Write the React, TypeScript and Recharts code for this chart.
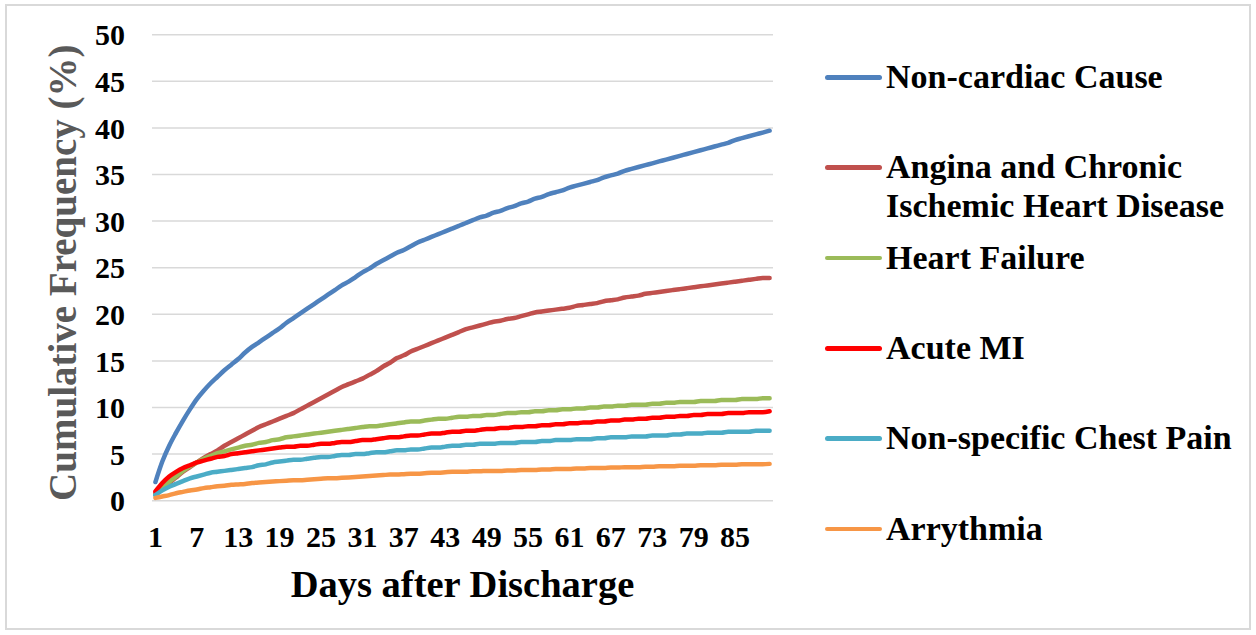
import React from 'react';
import { LineChart, Line, XAxis, YAxis, CartesianGrid, Legend, Label } from 'recharts';

const FONT = "'Liberation Serif', 'Times New Roman', serif";

// days after discharge (category axis)
const days = Array.from({ length: 90 }, (_, i) => String(i + 1));

const nonCardiac = [
  2.0, 4.2, 5.9, 7.3, 8.6, 9.8, 10.9, 11.8, 12.6, 13.3,
  14.0, 14.6, 15.2, 15.9, 16.5, 17.0, 17.5, 18.0, 18.5, 19.1,
  19.6, 20.1, 20.6, 21.1, 21.6, 22.1, 22.6, 23.1, 23.5, 24.0,
  24.5, 24.9, 25.4, 25.8, 26.2, 26.6, 26.9, 27.3, 27.7, 28.0,
  28.3, 28.6, 28.9, 29.2, 29.5, 29.8, 30.1, 30.4, 30.6, 30.9,
  31.1, 31.4, 31.6, 31.9, 32.1, 32.4, 32.6, 32.9, 33.1, 33.3,
  33.6, 33.8, 34.0, 34.2, 34.4, 34.7, 34.9, 35.1, 35.4, 35.6,
  35.8, 36.0, 36.2, 36.4, 36.6, 36.8, 37.0, 37.2, 37.4, 37.6,
  37.8, 38.0, 38.2, 38.4, 38.7, 38.9, 39.1, 39.3, 39.5, 39.7,
];

const angina = [
  0.8, 1.3, 1.9, 2.5, 3.1, 3.6, 4.1, 4.6, 5.0, 5.4,
  5.9, 6.3, 6.7, 7.1, 7.5, 7.9, 8.2, 8.5, 8.8, 9.1,
  9.4, 9.8, 10.2, 10.6, 11.0, 11.4, 11.8, 12.2, 12.5, 12.8,
  13.1, 13.5, 13.9, 14.4, 14.8, 15.3, 15.6, 16.0, 16.3, 16.6,
  16.9, 17.2, 17.5, 17.8, 18.1, 18.4, 18.6, 18.8, 19.0, 19.2,
  19.3, 19.5, 19.6, 19.8, 20.0, 20.2, 20.3, 20.4, 20.5, 20.6,
  20.7, 20.9, 21.0, 21.1, 21.2, 21.4, 21.5, 21.6, 21.8, 21.9,
  22.0, 22.2, 22.3, 22.4, 22.5, 22.6, 22.7, 22.8, 22.9, 23.0,
  23.1, 23.2, 23.3, 23.4, 23.5, 23.6, 23.7, 23.8, 23.9, 23.9,
];

const heartFailure = [
  0.6, 1.3, 2.0, 2.6, 3.2, 3.7, 4.1, 4.5, 4.8, 5.1,
  5.3, 5.5, 5.7, 5.9, 6.0, 6.2, 6.3, 6.5, 6.6, 6.8,
  6.9, 7.0, 7.1, 7.2, 7.3, 7.4, 7.5, 7.6, 7.7, 7.8,
  7.9, 8.0, 8.0, 8.1, 8.2, 8.3, 8.4, 8.5, 8.5, 8.6,
  8.7, 8.8, 8.8, 8.9, 9.0, 9.0, 9.1, 9.1, 9.2, 9.2,
  9.3, 9.4, 9.4, 9.5, 9.5, 9.6, 9.6, 9.7, 9.7, 9.8,
  9.8, 9.9, 9.9, 10.0, 10.0, 10.1, 10.1, 10.2, 10.2, 10.3,
  10.3, 10.3, 10.4, 10.4, 10.5, 10.5, 10.6, 10.6, 10.6, 10.7,
  10.7, 10.7, 10.8, 10.8, 10.8, 10.9, 10.9, 10.9, 11.0, 11.0,
];

const acuteMI = [
  1.0, 1.9, 2.6, 3.1, 3.5, 3.8, 4.1, 4.3, 4.5, 4.7,
  4.8, 5.0, 5.1, 5.2, 5.3, 5.4, 5.5, 5.6, 5.7, 5.8,
  5.8, 5.9, 5.9, 6.0, 6.1, 6.1, 6.2, 6.3, 6.3, 6.4,
  6.5, 6.5, 6.6, 6.7, 6.8, 6.8, 6.9, 7.0, 7.0, 7.1,
  7.2, 7.2, 7.3, 7.4, 7.4, 7.5, 7.5, 7.6, 7.7, 7.7,
  7.8, 7.8, 7.9, 7.9, 8.0, 8.0, 8.1, 8.1, 8.2, 8.2,
  8.3, 8.3, 8.4, 8.4, 8.5, 8.5, 8.6, 8.6, 8.7, 8.7,
  8.8, 8.8, 8.9, 8.9, 9.0, 9.0, 9.1, 9.1, 9.2, 9.2,
  9.3, 9.3, 9.3, 9.4, 9.4, 9.4, 9.5, 9.5, 9.5, 9.6,
];

const chestPain = [
  0.6, 1.1, 1.5, 1.8, 2.1, 2.4, 2.6, 2.8, 3.0, 3.1,
  3.2, 3.3, 3.4, 3.5, 3.6, 3.8, 3.9, 4.1, 4.2, 4.3,
  4.4, 4.4, 4.5, 4.6, 4.7, 4.7, 4.8, 4.9, 4.9, 5.0,
  5.0, 5.1, 5.2, 5.2, 5.3, 5.4, 5.4, 5.5, 5.5, 5.6,
  5.7, 5.7, 5.8, 5.9, 5.9, 6.0, 6.0, 6.1, 6.1, 6.1,
  6.2, 6.2, 6.2, 6.3, 6.3, 6.3, 6.4, 6.4, 6.5, 6.5,
  6.5, 6.6, 6.6, 6.6, 6.7, 6.7, 6.8, 6.8, 6.8, 6.9,
  6.9, 6.9, 7.0, 7.0, 7.0, 7.1, 7.1, 7.2, 7.2, 7.2,
  7.3, 7.3, 7.3, 7.4, 7.4, 7.4, 7.4, 7.5, 7.5, 7.5,
];

const arrythmia = [
  0.3, 0.45, 0.6, 0.8, 0.95, 1.1, 1.2, 1.35, 1.45, 1.55,
  1.6, 1.7, 1.75, 1.8, 1.9, 1.95, 2.0, 2.05, 2.1, 2.15,
  2.2, 2.2, 2.25, 2.3, 2.35, 2.4, 2.4, 2.45, 2.5, 2.55,
  2.6, 2.65, 2.7, 2.75, 2.8, 2.8, 2.85, 2.9, 2.9, 2.95,
  3.0, 3.0, 3.05, 3.1, 3.1, 3.1, 3.15, 3.15, 3.2, 3.2,
  3.2, 3.25, 3.25, 3.3, 3.3, 3.3, 3.35, 3.35, 3.4, 3.4,
  3.4, 3.45, 3.45, 3.5, 3.5, 3.5, 3.55, 3.55, 3.6, 3.6,
  3.6, 3.65, 3.65, 3.7, 3.7, 3.7, 3.75, 3.75, 3.75, 3.8,
  3.8, 3.8, 3.85, 3.85, 3.85, 3.9, 3.9, 3.9, 3.9, 3.95,
];

const yTicks = [0, 5, 10, 15, 20, 25, 30, 35, 40, 45, 50];

const series = [
  { key: 'nonCardiac', name: 'Non-cardiac Cause', color: '#4F81BD', values: nonCardiac },
  { key: 'angina', name: 'Angina and Chronic Ischemic Heart Disease', color: '#C0504D', values: angina },
  { key: 'heartFailure', name: 'Heart Failure', color: '#9BBB59', values: heartFailure },
  { key: 'acuteMI', name: 'Acute MI', color: '#FF0000', values: acuteMI },
  { key: 'chestPain', name: 'Non-specific Chest Pain', color: '#4BACC6', values: chestPain },
  { key: 'arrythmia', name: 'Arrythmia', color: '#F79646', values: arrythmia },
];

const data = days.map((day, i) => {
  const row: Record<string, string | number> = { day };
  series.forEach((s) => {
    row[s.key] = s.values[i];
  });
  return row;
});

const tickStyle = { fontFamily: FONT, fontSize: 30, fontWeight: 700, fill: '#000' };

const LegendBox = () => (
  <div style={{ position: 'relative', fontFamily: FONT, fontWeight: 700, fontSize: 34, color: '#000' }}>
    {series.map((s, i) => (
      <div
        key={s.key}
        style={{ position: 'absolute', left: 0, top: i * 90.3, display: 'flex', alignItems: 'flex-start' }}
      >
        <span
          style={{
            display: 'inline-block',
            width: 57,
            height: 4.5,
            marginTop: 17.2,
            borderRadius: 3,
            background: s.color,
            flexShrink: 0,
          }}
        />
        <span style={{ marginLeft: 4, width: 365, lineHeight: '38.4px', whiteSpace: 'normal' }}>{s.name}</span>
      </div>
    ))}
  </div>
);

export default function App() {
  return (
    <div style={{ position: 'absolute', left: 0, top: 0, width: 1256, height: 635, background: '#fff' }}>
      <div
        style={{
          position: 'absolute',
          left: 5,
          top: 4,
          width: 1246,
          height: 626,
          border: '2px solid #d9d9d9',
          boxSizing: 'border-box',
        }}
      />
      <LineChart
        width={1256}
        height={635}
        data={data}
        margin={{ top: 34.7, right: 483, bottom: 74.3, left: 0 }}
        style={{ position: 'absolute', left: 0, top: 0 }}
      >
        <CartesianGrid vertical={false} stroke="#d9d9d9" strokeWidth={1.5} />
        <XAxis
          dataKey="day"
          height={60}
          interval={5}
          axisLine={false}
          tickLine={false}
          tickSize={0}
          tickMargin={25}
          padding={{ left: 3.4, right: 3.4 }}
          tick={tickStyle}
        >
          <Label
            content={({ viewBox }: any) => (
              <text
                x={viewBox.x + viewBox.width / 2}
                y={597}
                textAnchor="middle"
                fontFamily={FONT}
                fontWeight={700}
                fontSize={38.5}
                fill="#000"
              >
                Days after Discharge
              </text>
            )}
          />
        </XAxis>
        <YAxis
          width={152}
          domain={[0, 50]}
          ticks={yTicks}
          interval={0}
          axisLine={false}
          tickLine={false}
          tickSize={0}
          tickMargin={27}
          tick={tickStyle}
        >
          <Label
            content={({ viewBox }: any) => {
              const cy = viewBox.y + viewBox.height / 2 + 5;
              return (
                <text
                  x={76}
                  y={cy}
                  transform={`rotate(-90, 76, ${cy})`}
                  textAnchor="middle"
                  fontFamily={FONT}
                  fontWeight={700}
                  fontSize={39}
                  fill="#595959"
                >
                  Cumulative Frequency (%)
                </text>
              );
            }}
          />
        </YAxis>
        <Legend
          layout="vertical"
          align="center"
          verticalAlign="middle"
          content={() => <LegendBox />}
          wrapperStyle={{ position: 'absolute', left: 825, top: 58, width: 430, height: 520 }}
        />
        {series.map((s) => (
          <Line
            key={s.key}
            type="monotone"
            dataKey={s.key}
            name={s.name}
            stroke={s.color}
            strokeWidth={4.5}
            strokeLinecap="round"
            strokeLinejoin="round"
            dot={false}
            activeDot={false}
            isAnimationActive={false}
          />
        ))}
      </LineChart>
    </div>
  );
}
